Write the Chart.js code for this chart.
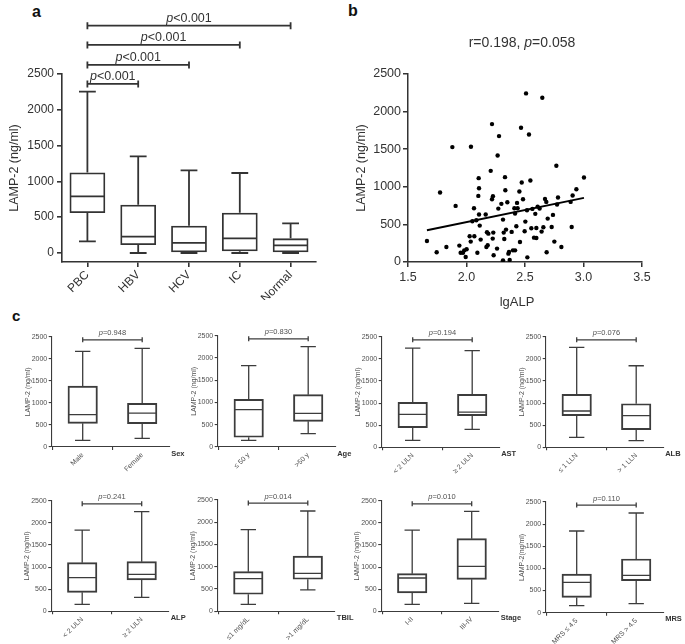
<!DOCTYPE html>
<html><head><meta charset="utf-8">
<script src="https://cdn.jsdelivr.net/npm/chart.js@4.4.1/dist/chart.umd.min.js"></script>
<style>
html,body{margin:0;padding:0;background:#fff}
body{width:685px;height:644px;overflow:hidden;position:relative;font-family:Arial,"Liberation Sans",Helvetica,sans-serif}
canvas{position:absolute}
.lbl{position:absolute;font-weight:bold;color:#111;line-height:1}
</style></head><body>
<div class="lbl" style="left:32px;top:3.5px;font-size:16px">a</div>
<div class="lbl" style="left:348px;top:2.5px;font-size:16px">b</div>
<div class="lbl" style="left:12px;top:308px;font-size:15px">c</div>
<script>
// ---------------- DATA ----------------
// Panel a: five-number summaries [min, q1, median, q3, max]
const groupsA = ['PBC', 'HBV', 'HCV', 'IC', 'Normal'];
const statsA = [
  [163, 558, 790, 1125, 2254],
  [0, 112, 228, 674, 1349],
  [0, 0, 140, 381, 1154],
  [0, 23, 204, 563, 1117],
  [0, 0, 106, 204, 413]
];
const yTicksA = [0, 500, 1000, 1500, 2000, 2500];
const bracketPairsA = [[0, 1], [0, 2], [0, 3], [0, 4]];
const bracketLevelsA = [2362, 2627, 2906, 3175];
const bracketPA = ['<0.001', '<0.001', '<0.001', '<0.001'];

// Panel b: lgALP vs LAMP-2
const alpX = [1.662,1.745,1.774,1.828,1.879,1.907,1.939,1.950,1.970,1.981,1.993,2.001,2.027,2.036,2.038,2.050,2.064,2.067,2.084,2.093,2.101,2.104,2.107,2.107,2.113,2.121,2.164,2.170,2.175,2.181,2.187,2.207,2.218,2.218,2.224,2.226,2.229,2.232,2.261,2.266,2.272,2.278,2.298,2.312,2.312,2.318,2.323,2.329,2.332,2.338,2.349,2.358,2.363,2.369,2.386,2.397,2.409,2.415,2.415,2.426,2.432,2.437,2.452,2.457,2.466,2.472,2.483,2.497,2.503,2.509,2.517,2.520,2.534,2.546,2.554,2.563,2.577,2.588,2.597,2.597,2.608,2.625,2.642,2.648,2.657,2.671,2.682,2.685,2.694,2.728,2.739,2.751,2.768,2.774,2.782,2.811,2.890,2.899,2.907,2.939,3.004];
const lampY = [280,129,924,200,1528,746,218,124,124,155,67,169,342,271,1532,542,715,342,555,124,879,1115,981,631,484,298,631,200,395,222,377,1212,1834,835,311,875,391,89,178,1417,710,1674,773,22,564,391,306,1128,955,431,795,111,133,27,400,155,715,155,644,475,786,715,937,266,1785,1057,835,408,537,2242,688,62,1696,1083,448,706,324,640,320,453,737,710,404,2185,462,839,799,129,577,466,626,271,1279,764,857,200,799,466,884,968,1123];
const fitX = [1.662, 3.004];
const fitY = [422, 853];
const xTicksB = [1.5, 2.0, 2.5, 3.0, 3.5];
const yTicksB = [0, 500, 1000, 1500, 2000, 2500];
const titleB = ['r=0.198, ', 'p', '=0.058'];

// Panel c: two-group comparisons
const sexLabels = ['Male', 'Female'];
const sexStats = [[151, 537, 732, 1382, 2168], [196, 529, 770, 990, 2237]];
const ageLabels = ['\u2264 50 y', '>50 y'];
const ageStats = [[150, 218, 838, 1071, 1826], [299, 577, 757, 1175, 2253]];
const astLabels = ['< 2 ULN', '\u2265 2 ULN'];
const astStats = [[157, 443, 745, 1016, 2243], [406, 714, 797, 1197, 2183]];
const albLabels = ['\u2264 1 LLN', '> 1 LLN'];
const albStats = [[226, 716, 820, 1197, 2258], [151, 400, 716, 985, 1843]];
const alpLabels = ['< 2 ULN', '\u2265 2 ULN'];
const alpStats = [[158, 429, 760, 1099, 1837], [316, 708, 836, 1122, 2251]];
const tbilLabels = ['\u22641 mg/dL', '>1 mg/dL'];
const tbilStats = [[157, 382, 733, 890, 1835], [479, 719, 853, 1242, 2253]];
const stageLabels = ['I-II', 'III-IV'];
const stageStats = [[158, 414, 753, 851, 1837], [181, 723, 1017, 1641, 2259]];
const mrsLabels = ['MRS \u2264 4.5', 'MRS > 4.5'];
const mrsStats = [[158, 346, 685, 874, 1845], [203, 723, 844, 1213, 2252]];
const cVars = ['Sex', 'Age', 'AST', 'ALB', 'ALP', 'TBIL', 'Stage', 'MRS'];
const cPvals = ['=0.948', '=0.830', '=0.194', '=0.076', '=0.241', '=0.014', '=0.010', '=0.110'];
const cYTitles = ['LAMP-2 (ng/ml)', 'LAMP-2 (ng/ml)', 'LAMP-2 (ng/ml)', 'LAMP-2 (ng/ml)', 'LAMP-2 (ng/ml)', 'LAMP-2 (ng/ml)', 'LAMP-2 (ng/ml)', 'LAMP-2(ng/ml)'];
const yTicksC = [0, 500, 1000, 1500, 2000, 2500];
const bracketLevelC = 2430;

// ---------------- SETUP ----------------
const FAM = 'Arial, "Liberation Sans", Helvetica, sans-serif';
Chart.defaults.font.family = FAM;
Chart.defaults.animation = false;
Chart.defaults.responsive = false;
Chart.defaults.devicePixelRatio = 1;
Chart.defaults.plugins.legend.display = false;
Chart.defaults.plugins.tooltip.enabled = false;
const plainNum = v => String(v);

function mkCanvas(left, top, w, h) {
  const c = document.createElement('canvas');
  c.width = w; c.height = h;
  c.style.left = left + 'px'; c.style.top = top + 'px';
  c.style.width = w + 'px'; c.style.height = h + 'px';
  document.body.appendChild(c);
  return c;
}

function mixedText(ctx, parts, cx, cy, size, color, weight) {
  ctx.save();
  ctx.fillStyle = color; ctx.textBaseline = 'middle'; ctx.textAlign = 'left';
  const fonts = parts.map(p => (p[1] ? 'italic ' : '') + (weight || 'normal') + ' ' + size + 'px ' + FAM);
  let total = 0;
  const ws = parts.map((p, i) => { ctx.font = fonts[i]; const w = ctx.measureText(p[0]).width; total += w; return w; });
  let x = cx - total / 2;
  parts.forEach((p, i) => { ctx.font = fonts[i]; ctx.fillText(p[0], x, cy); x += ws[i]; });
  ctx.restore();
}

// Box-and-whisker drawing using the bar elements and the y scale
const boxPlugin = {
  id: 'boxplot',
  afterDatasetsDraw(chart, args, o) {
    if (!o || !o.stats) return;
    const ctx = chart.ctx, y = chart.scales.y;
    const meta = chart.getDatasetMeta(0);
    ctx.save();
    ctx.strokeStyle = o.color; ctx.lineWidth = o.lw; ctx.lineCap = 'butt';
    o.stats.forEach((s, i) => {
      const bar = meta.data[i];
      const cx = bar.x, hw = bar.width / 2, cw = hw * o.capFrac;
      const [mn, q1, md, q3, mx] = s.map(v => y.getPixelForValue(v));
      ctx.beginPath();
      ctx.moveTo(cx, q3); ctx.lineTo(cx, mx);
      ctx.moveTo(cx - cw, mx); ctx.lineTo(cx + cw, mx);
      ctx.moveTo(cx, q1); ctx.lineTo(cx, mn);
      ctx.moveTo(cx - cw, mn); ctx.lineTo(cx + cw, mn);
      ctx.moveTo(cx - hw + o.lw / 2, md); ctx.lineTo(cx + hw - o.lw / 2, md);
      ctx.stroke();
    });
    ctx.restore();
  }
};

// Significance brackets
const bracketPlugin = {
  id: 'brackets',
  afterDraw(chart, args, o) {
    if (!o || !o.list) return;
    const ctx = chart.ctx, x = chart.scales.x, y = chart.scales.y;
    ctx.save();
    ctx.strokeStyle = o.color; ctx.lineWidth = o.lw;
    o.list.forEach(b => {
      const x1 = x.getPixelForValue(b.a), x2 = x.getPixelForValue(b.b), yy = y.getPixelForValue(b.v);
      ctx.beginPath();
      ctx.moveTo(x1, yy); ctx.lineTo(x2, yy);
      ctx.moveTo(x1, yy - o.cap); ctx.lineTo(x1, yy + o.cap);
      ctx.moveTo(x2, yy - o.cap); ctx.lineTo(x2, yy + o.cap);
      ctx.stroke();
      mixedText(ctx, [['p', true], [b.p, false]], (x1 + x2) / 2, yy - o.textOff, o.size, o.textColor);
    });
    ctx.restore();
  }
};

// ---------------- PANEL a ----------------
(function () {
  const W = 330, H = 300, L = 62, T = 74, R = 316, B = 262;
  const cv = mkCanvas(0, 0, W, H);
  const col = '#333';
  new Chart(cv, {
    type: 'bar',
    data: {
      labels: groupsA,
      datasets: [{
        data: statsA.map(s => [s[1], s[3]]),
        backgroundColor: 'rgba(255,255,255,0)',
        borderColor: col, borderWidth: 1.8, borderSkipped: false,
        categoryPercentage: 0.8, barPercentage: 0.88
      }]
    },
    options: {
      layout: { padding: { left: 0, top: T, right: W - R, bottom: 0 } },
      scales: {
        x: {
          offset: true,
          grid: { offset: false, drawOnChartArea: false, drawTicks: true, tickLength: 5, color: col, lineWidth: 1.6 },
          border: { display: true, color: col, width: 1.6 },
          ticks: { color: '#333', font: { size: 12 }, minRotation: 45, maxRotation: 45, padding: 1, autoSkip: false },
          afterFit: s => { s.height = H - B; }
        },
        y: {
          min: -126, max: 2500,
          afterBuildTicks: s => { s.ticks = yTicksA.map(v => ({ value: v })); },
          grid: { drawOnChartArea: false, drawTicks: true, tickLength: 5, color: col, lineWidth: 1.6 },
          border: { display: true, color: col, width: 1.6 },
          ticks: { color: '#333', font: { size: 12 }, padding: 3, callback: plainNum },
          title: { display: true, text: 'LAMP-2 (ng/ml)', color: '#333', font: { size: 12.5 }, padding: { top: 7.5, bottom: 0 } },
          afterFit: s => { s.width = L; }
        }
      },
      plugins: {
        boxplot: { stats: statsA, color: col, lw: 1.8, capFrac: 0.47 },
        brackets: {
          list: bracketPairsA.map((p, i) => ({ a: p[0], b: p[1], v: bracketLevelsA[i], p: bracketPA[i] })),
          color: col, lw: 1.8, cap: 3.5, textOff: 7.5, size: 12.5, textColor: '#333'
        }
      }
    },
    plugins: [boxPlugin, bracketPlugin]
  });
})();

// ---------------- PANEL b ----------------
(function () {
  const W = 355, H = 320, L = 78, T = 74, R = 312, B = 262, left = 330;
  const cv = mkCanvas(left, 0, W, H);
  const col = '#333';
  const textPlugin = {
    id: 'btexts',
    afterDraw(chart) {
      const ctx = chart.ctx, a = chart.chartArea;
      mixedText(ctx, [[titleB[0], false], [titleB[1], true], [titleB[2], false]], (a.left + a.right) / 2 - 3, 42.7, 14, '#333');
      mixedText(ctx, [['lgALP', false]], (a.left + a.right) / 2 - 8, 302, 13, '#333');
    }
  };
  new Chart(cv, {
    type: 'scatter',
    data: {
      datasets: [
        {
          type: 'scatter',
          data: alpX.map((x, i) => ({ x: x, y: lampY[i] })),
          pointRadius: 2.2, pointBackgroundColor: '#000', pointBorderWidth: 0, pointBorderColor: '#000'
        },
        {
          type: 'line',
          data: fitX.map((x, i) => ({ x: x, y: fitY[i] })),
          borderColor: '#000', borderWidth: 2, pointRadius: 0, fill: false
        }
      ]
    },
    options: {
      layout: { padding: { left: 0, top: T, right: W - R, bottom: 0 } },
      scales: {
        x: {
          type: 'linear', min: 1.5, max: 3.5,
          afterBuildTicks: s => { s.ticks = xTicksB.map(v => ({ value: v })); },
          grid: { drawOnChartArea: false, drawTicks: true, tickLength: 5, color: col, lineWidth: 1.5 },
          border: { display: true, color: col, width: 1.5 },
          ticks: { color: '#333', font: { size: 12.5 }, padding: 3, callback: v => Number(v).toFixed(1) },
          afterFit: s => { s.height = H - B; }
        },
        y: {
          min: 0, max: 2500,
          afterBuildTicks: s => { s.ticks = yTicksB.map(v => ({ value: v })); },
          grid: { drawOnChartArea: false, drawTicks: true, tickLength: 5, color: col, lineWidth: 1.5 },
          border: { display: true, color: col, width: 1.5 },
          ticks: { color: '#333', font: { size: 12.5 }, padding: 2, callback: plainNum },
          title: { display: true, text: 'LAMP-2 (ng/ml)', color: '#333', font: { size: 12.5 }, padding: { top: 24.5, bottom: 0 } },
          afterFit: s => { s.width = L; }
        }
      }
    },
    plugins: [textPlugin]
  });
})();

// ---------------- PANEL c ----------------
const cLabels = [sexLabels, ageLabels, astLabels, albLabels, alpLabels, tbilLabels, stageLabels, mrsLabels];
const cStats = [sexStats, ageStats, astStats, albStats, alpStats, tbilStats, stageStats, mrsStats];
// layout: first category pixel, top (2500) and bottom (0) pixel of each small plot
const cFirst = [82.7, 248.7, 412.7, 576.7, 82.2, 248.3, 412.2, 576.7];
const cTop = [336.7, 335.7, 336.7, 336.7, 500.7, 500.0, 500.7, 502.0];
const cBot = [447.0, 447.0, 447.3, 447.3, 611.3, 611.3, 611.3, 612.7];

cStats.forEach((stats, k) => {
  const labels = cLabels[k];
  const gap = 59.5, before = 31, after = 27;
  const L = cFirst[k] - before, R = cFirst[k] + gap + after, T = cTop[k], B = cBot[k];
  const cl = Math.floor(L - 40), ct = Math.floor(T - 30);
  const yW = L - cl, padTop = T - ct;
  const W = Math.ceil(yW + (R - L) + 45), H = Math.ceil(padTop + (B - T) + 48);
  const padRight = W - yW - (R - L), xH = H - (B - ct);
  const cv = mkCanvas(cl, ct, W, H);
  const col = '#3c3c3c', tcol = '#505050';
  const varPlugin = {
    id: 'cvar',
    afterDraw(chart) {
      const ctx = chart.ctx, a = chart.chartArea;
      ctx.save();
      ctx.fillStyle = '#333'; ctx.font = 'bold 7.5px ' + FAM;
      ctx.textAlign = 'left'; ctx.textBaseline = 'middle';
      ctx.fillText(cVars[k], a.right + 2, a.bottom + 6.5);
      ctx.restore();
    }
  };
  new Chart(cv, {
    type: 'bar',
    data: {
      datasets: [{
        data: stats.map((s, i) => ({ x: i + 1, y: [s[1], s[3]] })),
        backgroundColor: 'rgba(255,255,255,0)',
        borderColor: col, borderWidth: 1.3, borderSkipped: false,
        barThickness: 29.5
      }]
    },
    options: {
      layout: { padding: { left: 0, top: padTop, right: padRight, bottom: 0 } },
      scales: {
        x: {
          type: 'linear', offset: false,
          min: 1 - before / gap, max: 2 + after / gap,
          afterBuildTicks: s => { s.ticks = labels.map((_, i) => ({ value: i + 1 })); },
          grid: { drawOnChartArea: false, drawTicks: true, tickLength: 3, color: col, lineWidth: 1.1 },
          border: { display: true, color: col, width: 1.1 },
          ticks: { color: tcol, font: { size: 7 }, minRotation: 45, maxRotation: 45, padding: 1, autoSkip: false,
                   callback: v => labels[Math.round(v) - 1] },
          afterFit: s => { s.height = xH; }
        },
        y: {
          min: 0, max: 2500,
          afterBuildTicks: s => { s.ticks = yTicksC.map(v => ({ value: v })); },
          grid: { drawOnChartArea: false, drawTicks: true, tickLength: 3, color: col, lineWidth: 1.1 },
          border: { display: true, color: col, width: 1.1 },
          ticks: { color: tcol, font: { size: 7 }, padding: 1.5, callback: plainNum },
          title: { display: true, text: cYTitles[k], color: tcol, font: { size: 7 }, padding: { top: yW - 24 - 4.2, bottom: 0 } },
          afterFit: s => { s.width = yW; }
        }
      },
      plugins: {
        boxplot: { stats: stats, color: col, lw: 1.3, capFrac: 0.52 },
        brackets: { list: [{ a: 1, b: 2, v: bracketLevelC, p: cPvals[k] }], color: col, lw: 1.3, cap: 2.5, textOff: 6.5, size: 7.5, textColor: tcol }
      }
    },
    plugins: [boxPlugin, bracketPlugin, varPlugin]
  });
});
</script>
</body></html>
